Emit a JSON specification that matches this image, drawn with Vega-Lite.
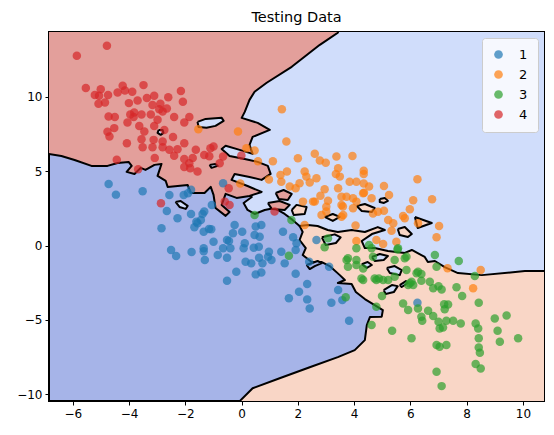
{
  "$schema": "https://vega.github.io/schema/vega-lite/v6.json",
  "width": 495,
  "height": 369,
  "autosize": {"type": "none"},
  "padding": {"left": 49, "top": 32, "right": 10, "bottom": 34},
  "title": {"text": "Testing Data", "fontSize": 14.5, "font": "DejaVu Sans", "fontWeight": "normal", "offset": 7, "color": "black"},
  "config": {
    "view": {"fill": "#a6b4e8", "stroke": "black", "strokeWidth": 2},
    "axis": {"labelFont": "DejaVu Sans", "labelFontSize": 12, "labelColor": "black", "tickColor": "black", "domainColor": "black", "tickSize": 4, "grid": false, "title": null, "labelPadding": 3, "zindex": 1},
    "legend": {"orient": "top-right", "offset": 6, "fillColor": "rgba(255,255,255,0.8)", "strokeColor": "#cccccc", "cornerRadius": 3, "padding": 10, "labelFontSize": 13, "labelFont": "DejaVu Sans", "labelColor": "black", "symbolSize": 75, "symbolOpacity": 0.7, "symbolStrokeWidth": 0, "symbolType": "circle", "rowPadding": 6, "labelOffset": 14}
  },
  "datasets": {
    "regions": [
      {"g": "peach", "i": 0, "x": 1.92, "y": 1.85},
      {"g": "peach", "i": 1, "x": 11.49, "y": 1.85},
      {"g": "peach", "i": 2, "x": 11.49, "y": -11.74},
      {"g": "peach", "i": 3, "x": -0.14, "y": -11.74},
      {"g": "peach", "i": 4, "x": -0.07, "y": -10.46},
      {"g": "peach", "i": 5, "x": 0.39, "y": -9.59},
      {"g": "peach", "i": 6, "x": 1.35, "y": -8.92},
      {"g": "peach", "i": 7, "x": 2.42, "y": -8.18},
      {"g": "peach", "i": 8, "x": 3.42, "y": -7.5},
      {"g": "peach", "i": 9, "x": 4.02, "y": -7.03},
      {"g": "peach", "i": 10, "x": 4.38, "y": -6.36},
      {"g": "peach", "i": 11, "x": 4.45, "y": -5.35},
      {"g": "peach", "i": 12, "x": 4.56, "y": -4.81},
      {"g": "peach", "i": 13, "x": 4.98, "y": -4.78},
      {"g": "peach", "i": 14, "x": 5.02, "y": -4.34},
      {"g": "peach", "i": 15, "x": 4.73, "y": -4.0},
      {"g": "peach", "i": 16, "x": 4.38, "y": -3.6},
      {"g": "peach", "i": 17, "x": 4.06, "y": -3.13},
      {"g": "peach", "i": 18, "x": 3.91, "y": -2.59},
      {"g": "peach", "i": 19, "x": 3.42, "y": -2.52},
      {"g": "peach", "i": 20, "x": 3.67, "y": -2.32},
      {"g": "peach", "i": 21, "x": 3.49, "y": -1.99},
      {"g": "peach", "i": 22, "x": 3.13, "y": -1.38},
      {"g": "peach", "i": 23, "x": 2.85, "y": -1.11},
      {"g": "peach", "i": 24, "x": 2.49, "y": -1.11},
      {"g": "peach", "i": 25, "x": 2.17, "y": -0.64},
      {"g": "peach", "i": 26, "x": 2.28, "y": -0.17},
      {"g": "peach", "i": 27, "x": 2.06, "y": 0.37},
      {"g": "peach", "i": 28, "x": 2.17, "y": 0.91},
      {"g": "peach", "i": 29, "x": 1.92, "y": 1.85},

      {"g": "lblue", "i": 0, "x": 11.49, "y": 15.51},
      {"g": "lblue", "i": 1, "x": 11.49, "y": -1.65},
      {"g": "lblue", "i": 2, "x": 10.75, "y": -1.72},
      {"g": "lblue", "i": 3, "x": 10.07, "y": -1.72},
      {"g": "lblue", "i": 4, "x": 8.54, "y": -1.99},
      {"g": "lblue", "i": 5, "x": 7.69, "y": -1.85},
      {"g": "lblue", "i": 6, "x": 7.22, "y": -1.45},
      {"g": "lblue", "i": 7, "x": 6.87, "y": -1.04},
      {"g": "lblue", "i": 8, "x": 6.62, "y": -1.11},
      {"g": "lblue", "i": 9, "x": 6.51, "y": -0.77},
      {"g": "lblue", "i": 10, "x": 6.05, "y": -0.3},
      {"g": "lblue", "i": 11, "x": 5.8, "y": -0.5},
      {"g": "lblue", "i": 12, "x": 5.2, "y": -0.37},
      {"g": "lblue", "i": 13, "x": 4.73, "y": -0.17},
      {"g": "lblue", "i": 14, "x": 4.38, "y": -0.17},
      {"g": "lblue", "i": 15, "x": 4.27, "y": 0.3},
      {"g": "lblue", "i": 16, "x": 4.63, "y": 0.77},
      {"g": "lblue", "i": 17, "x": 5.09, "y": 1.04},
      {"g": "lblue", "i": 18, "x": 4.84, "y": 1.24},
      {"g": "lblue", "i": 19, "x": 4.38, "y": 0.91},
      {"g": "lblue", "i": 20, "x": 3.91, "y": 1.04},
      {"g": "lblue", "i": 21, "x": 3.42, "y": 0.91},
      {"g": "lblue", "i": 22, "x": 3.06, "y": 1.04},
      {"g": "lblue", "i": 23, "x": 2.7, "y": 1.31},
      {"g": "lblue", "i": 24, "x": 2.35, "y": 1.38},
      {"g": "lblue", "i": 25, "x": 2.06, "y": 1.31},
      {"g": "lblue", "i": 26, "x": 1.81, "y": 1.72},
      {"g": "lblue", "i": 27, "x": 1.53, "y": 2.12},
      {"g": "lblue", "i": 28, "x": 1.17, "y": 2.52},
      {"g": "lblue", "i": 29, "x": 0.82, "y": 2.39},
      {"g": "lblue", "i": 30, "x": 0.46, "y": 2.12},
      {"g": "lblue", "i": 31, "x": 0.21, "y": 2.39},
      {"g": "lblue", "i": 32, "x": 0.07, "y": 2.86},
      {"g": "lblue", "i": 33, "x": 0.36, "y": 3.26},
      {"g": "lblue", "i": 34, "x": -0.07, "y": 3.73},
      {"g": "lblue", "i": 35, "x": -0.5, "y": 4.54},
      {"g": "lblue", "i": 36, "x": -0.96, "y": 6.43},
      {"g": "lblue", "i": 37, "x": -1.49, "y": 15.51},
      {"g": "lblue", "i": 38, "x": 11.49, "y": 15.51},

      {"g": "red", "i": 0, "x": -7.54, "y": 15.51},
      {"g": "red", "i": 1, "x": 3.67, "y": 15.51},
      {"g": "red", "i": 2, "x": 3.42, "y": 14.3},
      {"g": "red", "i": 3, "x": 2.78, "y": 13.49},
      {"g": "red", "i": 4, "x": 1.78, "y": 12.01},
      {"g": "red", "i": 5, "x": 0.89, "y": 10.94},
      {"g": "red", "i": 6, "x": 0.46, "y": 10.33},
      {"g": "red", "i": 7, "x": 0.28, "y": 9.79},
      {"g": "red", "i": 8, "x": 0.11, "y": 8.98},
      {"g": "red", "i": 9, "x": 0.0, "y": 8.58},
      {"g": "red", "i": 10, "x": 0.57, "y": 8.24},
      {"g": "red", "i": 11, "x": 1.0, "y": 7.77},
      {"g": "red", "i": 12, "x": 0.39, "y": 7.3},
      {"g": "red", "i": 13, "x": 0.28, "y": 6.76},
      {"g": "red", "i": 14, "x": 0.39, "y": 6.16},
      {"g": "red", "i": 15, "x": -0.07, "y": 6.43},
      {"g": "red", "i": 16, "x": -0.57, "y": 6.7},
      {"g": "red", "i": 17, "x": -0.71, "y": 6.49},
      {"g": "red", "i": 18, "x": -0.43, "y": 6.02},
      {"g": "red", "i": 19, "x": 0.11, "y": 5.82},
      {"g": "red", "i": 20, "x": 0.57, "y": 5.62},
      {"g": "red", "i": 21, "x": 0.93, "y": 5.35},
      {"g": "red", "i": 22, "x": 1.03, "y": 4.81},
      {"g": "red", "i": 23, "x": 0.71, "y": 4.41},
      {"g": "red", "i": 24, "x": 0.28, "y": 4.61},
      {"g": "red", "i": 25, "x": -0.25, "y": 4.81},
      {"g": "red", "i": 26, "x": -0.36, "y": 4.41},
      {"g": "red", "i": 27, "x": 0.21, "y": 4.0},
      {"g": "red", "i": 28, "x": 0.71, "y": 3.6},
      {"g": "red", "i": 29, "x": 0.28, "y": 3.33},
      {"g": "red", "i": 30, "x": -0.18, "y": 3.2},
      {"g": "red", "i": 31, "x": -0.57, "y": 3.47},
      {"g": "red", "i": 32, "x": -0.71, "y": 2.73},
      {"g": "red", "i": 33, "x": -0.43, "y": 2.25},
      {"g": "red", "i": 34, "x": -0.57, "y": 1.99},
      {"g": "red", "i": 35, "x": -0.93, "y": 2.52},
      {"g": "red", "i": 36, "x": -1.0, "y": 3.4},
      {"g": "red", "i": 37, "x": -1.1, "y": 3.94},
      {"g": "red", "i": 38, "x": -1.32, "y": 3.53},
      {"g": "red", "i": 39, "x": -1.81, "y": 3.53},
      {"g": "red", "i": 40, "x": -1.92, "y": 4.07},
      {"g": "red", "i": 41, "x": -2.63, "y": 3.94},
      {"g": "red", "i": 42, "x": -2.7, "y": 4.34},
      {"g": "red", "i": 43, "x": -2.99, "y": 4.68},
      {"g": "red", "i": 44, "x": -2.92, "y": 5.08},
      {"g": "red", "i": 45, "x": -2.85, "y": 5.48},
      {"g": "red", "i": 46, "x": -3.1, "y": 5.42},
      {"g": "red", "i": 47, "x": -3.42, "y": 5.08},
      {"g": "red", "i": 48, "x": -3.59, "y": 5.22},
      {"g": "red", "i": 49, "x": -3.81, "y": 4.81},
      {"g": "red", "i": 50, "x": -4.09, "y": 4.95},
      {"g": "red", "i": 51, "x": -3.91, "y": 5.35},
      {"g": "red", "i": 52, "x": -4.02, "y": 5.62},
      {"g": "red", "i": 53, "x": -4.41, "y": 5.55},
      {"g": "red", "i": 54, "x": -4.77, "y": 5.35},
      {"g": "red", "i": 55, "x": -5.34, "y": 5.35},
      {"g": "red", "i": 56, "x": -5.94, "y": 5.75},
      {"g": "red", "i": 57, "x": -6.41, "y": 6.02},
      {"g": "red", "i": 58, "x": -6.87, "y": 6.16},
      {"g": "red", "i": 59, "x": -7.54, "y": 6.16},
      {"g": "red", "i": 60, "x": -7.54, "y": 15.51}
    ],
    "islands": [
      {"g": "a1", "k": "lblue", "i": 0, "x": -1.57, "y": 8.31},
      {"g": "a1", "k": "lblue", "i": 1, "x": -1.28, "y": 8.51},
      {"g": "a1", "k": "lblue", "i": 2, "x": -0.71, "y": 8.58},
      {"g": "a1", "k": "lblue", "i": 3, "x": -0.64, "y": 8.38},
      {"g": "a1", "k": "lblue", "i": 4, "x": -0.93, "y": 8.04},
      {"g": "a1", "k": "lblue", "i": 5, "x": -1.25, "y": 7.91},
      {"g": "a1", "k": "lblue", "i": 6, "x": -1.53, "y": 7.97},
      {"g": "a1", "k": "lblue", "i": 7, "x": -1.57, "y": 8.31},
      {"g": "a2", "k": "lblue", "i": 0, "x": -2.95, "y": 7.77},
      {"g": "a2", "k": "lblue", "i": 1, "x": -2.81, "y": 7.77},
      {"g": "a2", "k": "lblue", "i": 2, "x": -2.78, "y": 7.57},
      {"g": "a2", "k": "lblue", "i": 3, "x": -2.88, "y": 7.44},
      {"g": "a2", "k": "lblue", "i": 4, "x": -2.99, "y": 7.57},
      {"g": "a2", "k": "lblue", "i": 5, "x": -2.95, "y": 7.77},
      {"g": "a3", "k": "lblue", "i": 0, "x": -1.14, "y": 5.42},
      {"g": "a3", "k": "lblue", "i": 1, "x": -0.93, "y": 5.48},
      {"g": "a3", "k": "lblue", "i": 2, "x": -0.85, "y": 5.35},
      {"g": "a3", "k": "lblue", "i": 3, "x": -1.07, "y": 5.22},
      {"g": "a3", "k": "lblue", "i": 4, "x": -1.14, "y": 5.42},
      {"g": "a4", "k": "lblue", "i": 0, "x": -2.35, "y": 2.93},
      {"g": "a4", "k": "lblue", "i": 1, "x": -2.17, "y": 2.99},
      {"g": "a4", "k": "lblue", "i": 2, "x": -1.92, "y": 2.66},
      {"g": "a4", "k": "lblue", "i": 3, "x": -1.99, "y": 2.46},
      {"g": "a4", "k": "lblue", "i": 4, "x": -2.21, "y": 2.59},
      {"g": "a4", "k": "lblue", "i": 5, "x": -2.35, "y": 2.93},
      {"g": "a5", "k": "peach", "i": 0, "x": 4.91, "y": 3.13},
      {"g": "a5", "k": "peach", "i": 1, "x": 5.09, "y": 3.2},
      {"g": "a5", "k": "peach", "i": 2, "x": 5.2, "y": 3.0},
      {"g": "a5", "k": "peach", "i": 3, "x": 5.06, "y": 2.86},
      {"g": "a5", "k": "peach", "i": 4, "x": 4.91, "y": 2.93},
      {"g": "a5", "k": "peach", "i": 5, "x": 4.91, "y": 3.13},
      {"g": "a6", "k": "peach", "i": 0, "x": 4.09, "y": 2.66},
      {"g": "a6", "k": "peach", "i": 1, "x": 4.38, "y": 2.79},
      {"g": "a6", "k": "peach", "i": 2, "x": 4.73, "y": 2.52},
      {"g": "a6", "k": "peach", "i": 3, "x": 4.63, "y": 2.25},
      {"g": "a6", "k": "peach", "i": 4, "x": 4.27, "y": 2.32},
      {"g": "a6", "k": "peach", "i": 5, "x": 4.09, "y": 2.66},
      {"g": "a7", "k": "peach", "i": 0, "x": 6.16, "y": 1.92},
      {"g": "a7", "k": "peach", "i": 1, "x": 6.76, "y": 1.51},
      {"g": "a7", "k": "peach", "i": 2, "x": 6.26, "y": 1.18},
      {"g": "a7", "k": "peach", "i": 3, "x": 6.16, "y": 1.92},
      {"g": "a8", "k": "peach", "i": 0, "x": 5.55, "y": 1.11},
      {"g": "a8", "k": "peach", "i": 1, "x": 5.8, "y": 1.24},
      {"g": "a8", "k": "peach", "i": 2, "x": 6.05, "y": 0.77},
      {"g": "a8", "k": "peach", "i": 3, "x": 5.91, "y": 0.57},
      {"g": "a8", "k": "peach", "i": 4, "x": 5.62, "y": 0.71},
      {"g": "a8", "k": "peach", "i": 5, "x": 5.55, "y": 1.11},
      {"g": "a9", "k": "lblue", "i": 0, "x": 5.16, "y": -1.51},
      {"g": "a9", "k": "lblue", "i": 1, "x": 5.44, "y": -1.38},
      {"g": "a9", "k": "lblue", "i": 2, "x": 5.69, "y": -1.65},
      {"g": "a9", "k": "lblue", "i": 3, "x": 5.62, "y": -1.99},
      {"g": "a9", "k": "lblue", "i": 4, "x": 5.27, "y": -1.85},
      {"g": "a9", "k": "lblue", "i": 5, "x": 5.16, "y": -1.51},
      {"g": "a10", "k": "lblue", "i": 0, "x": 5.05, "y": -3.0},
      {"g": "a10", "k": "lblue", "i": 1, "x": 5.34, "y": -2.66},
      {"g": "a10", "k": "lblue", "i": 2, "x": 5.55, "y": -2.73},
      {"g": "a10", "k": "lblue", "i": 3, "x": 5.41, "y": -3.13},
      {"g": "a10", "k": "lblue", "i": 4, "x": 5.12, "y": -3.26},
      {"g": "a10", "k": "lblue", "i": 5, "x": 5.05, "y": -3.0},
      {"g": "a11", "k": "lblue", "i": 0, "x": 5.62, "y": -2.66},
      {"g": "a11", "k": "lblue", "i": 1, "x": 5.84, "y": -2.39},
      {"g": "a11", "k": "lblue", "i": 2, "x": 5.91, "y": -2.52},
      {"g": "a11", "k": "lblue", "i": 3, "x": 5.69, "y": -2.79},
      {"g": "a11", "k": "lblue", "i": 4, "x": 5.62, "y": -2.66},
      {"g": "a12", "k": "lblue", "i": 0, "x": 4.63, "y": -0.77},
      {"g": "a12", "k": "lblue", "i": 1, "x": 4.91, "y": -0.57},
      {"g": "a12", "k": "lblue", "i": 2, "x": 5.2, "y": -0.71},
      {"g": "a12", "k": "lblue", "i": 3, "x": 5.05, "y": -0.98},
      {"g": "a12", "k": "lblue", "i": 4, "x": 4.73, "y": -1.04},
      {"g": "a12", "k": "lblue", "i": 5, "x": 4.63, "y": -0.77},
      {"g": "a13", "k": "lblue", "i": 0, "x": 2.85, "y": 0.55},
      {"g": "a13", "k": "lblue", "i": 1, "x": 3.31, "y": 0.75},
      {"g": "a13", "k": "lblue", "i": 2, "x": 3.52, "y": 0.55},
      {"g": "a13", "k": "lblue", "i": 3, "x": 3.35, "y": 0.17},
      {"g": "a13", "k": "lblue", "i": 4, "x": 2.99, "y": 0.03},
      {"g": "a13", "k": "lblue", "i": 5, "x": 2.85, "y": 0.55},
      {"g": "a14", "k": "blue", "i": 0, "x": 2.31, "y": -1.31},
      {"g": "a14", "k": "blue", "i": 1, "x": 2.7, "y": -1.04},
      {"g": "a14", "k": "blue", "i": 2, "x": 2.85, "y": -1.18},
      {"g": "a14", "k": "blue", "i": 3, "x": 2.6, "y": -1.38},
      {"g": "a14", "k": "blue", "i": 4, "x": 2.42, "y": -1.58},
      {"g": "a14", "k": "blue", "i": 5, "x": 2.31, "y": -1.31},
      {"g": "a15", "k": "lblue", "i": 0, "x": 4.27, "y": -1.25},
      {"g": "a15", "k": "lblue", "i": 1, "x": 4.48, "y": -1.11},
      {"g": "a15", "k": "lblue", "i": 2, "x": 4.63, "y": -1.31},
      {"g": "a15", "k": "lblue", "i": 3, "x": 4.45, "y": -1.51},
      {"g": "a15", "k": "lblue", "i": 4, "x": 4.27, "y": -1.25},
      {"g": "a16", "k": "red", "i": 0, "x": 1.21, "y": 3.53},
      {"g": "a16", "k": "red", "i": 1, "x": 1.49, "y": 3.73},
      {"g": "a16", "k": "red", "i": 2, "x": 1.78, "y": 3.47},
      {"g": "a16", "k": "red", "i": 3, "x": 1.64, "y": 3.06},
      {"g": "a16", "k": "red", "i": 4, "x": 1.32, "y": 3.13},
      {"g": "a16", "k": "red", "i": 5, "x": 1.21, "y": 3.53},
      {"g": "a17", "k": "red", "i": 0, "x": 0.93, "y": 2.86},
      {"g": "a17", "k": "red", "i": 1, "x": 1.35, "y": 2.99},
      {"g": "a17", "k": "red", "i": 2, "x": 1.71, "y": 2.73},
      {"g": "a17", "k": "red", "i": 3, "x": 1.53, "y": 2.39},
      {"g": "a17", "k": "red", "i": 4, "x": 1.07, "y": 2.46},
      {"g": "a17", "k": "red", "i": 5, "x": 0.93, "y": 2.86},
      {"g": "a18", "k": "peach", "i": 0, "x": 1.78, "y": 2.39},
      {"g": "a18", "k": "peach", "i": 1, "x": 1.95, "y": 2.73},
      {"g": "a18", "k": "peach", "i": 2, "x": 2.31, "y": 2.59},
      {"g": "a18", "k": "peach", "i": 3, "x": 2.24, "y": 2.12},
      {"g": "a18", "k": "peach", "i": 4, "x": 1.85, "y": 2.05},
      {"g": "a18", "k": "peach", "i": 5, "x": 1.78, "y": 2.39},
      {"g": "a19", "k": "peach", "i": 0, "x": 2.95, "y": 1.92},
      {"g": "a19", "k": "peach", "i": 1, "x": 3.24, "y": 2.12},
      {"g": "a19", "k": "peach", "i": 2, "x": 3.49, "y": 1.92},
      {"g": "a19", "k": "peach", "i": 3, "x": 3.24, "y": 1.65},
      {"g": "a19", "k": "peach", "i": 4, "x": 2.95, "y": 1.92}
    ],
    "points": [
      {"x": -4.73, "y": 4.14, "c": "1"}, {"x": -4.47, "y": 3.42, "c": "1"}, {"x": -3.52, "y": 3.65, "c": "1"}, {"x": -2.57, "y": 3.4, "c": "1"},
      {"x": -2.06, "y": 3.4, "c": "1"}, {"x": -1.8, "y": 3.75, "c": "1"}, {"x": -1.06, "y": 2.73, "c": "1"}, {"x": -1.33, "y": 2.29, "c": "1"},
      {"x": -0.66, "y": 4.18, "c": "1"}, {"x": -1.91, "y": 3.51, "c": "1"}, {"x": -2.66, "y": 2.32, "c": "1"}, {"x": -2.28, "y": 1.83, "c": "1"},
      {"x": -1.8, "y": 2.12, "c": "1"}, {"x": -1.39, "y": 2.12, "c": "1"}, {"x": -1.45, "y": 1.72, "c": "1"}, {"x": -1.57, "y": 1.49, "c": "1"},
      {"x": -1.68, "y": 1.22, "c": "1"}, {"x": -1.35, "y": 0.93, "c": "1"}, {"x": -1.08, "y": 1.09, "c": "1"}, {"x": -2.85, "y": 1.16, "c": "1"},
      {"x": -1.0, "y": 0.26, "c": "1"}, {"x": -2.51, "y": -0.3, "c": "1"}, {"x": -2.33, "y": -0.71, "c": "1"}, {"x": -1.78, "y": -0.44, "c": "1"},
      {"x": -1.35, "y": -0.19, "c": "1"}, {"x": -1.35, "y": -0.38, "c": "1"}, {"x": -1.31, "y": -0.98, "c": "1"}, {"x": -0.85, "y": -0.64, "c": "1"},
      {"x": -1.61, "y": 1.6, "c": "1"}, {"x": -1.16, "y": 1.11, "c": "1"}, {"x": -0.52, "y": -0.82, "c": "1"}, {"x": -0.66, "y": -0.19, "c": "1"},
      {"x": -0.52, "y": 0.37, "c": "1"}, {"x": -0.45, "y": 0.3, "c": "1"}, {"x": -0.4, "y": -0.19, "c": "1"}, {"x": -0.31, "y": 0.82, "c": "1"},
      {"x": -0.25, "y": 1.38, "c": "1"}, {"x": 0.02, "y": 0.93, "c": "1"}, {"x": 0.11, "y": 0.15, "c": "1"}, {"x": 0.07, "y": -0.19, "c": "1"},
      {"x": 0.43, "y": -0.15, "c": "1"}, {"x": 0.61, "y": -0.08, "c": "1"}, {"x": 0.46, "y": 0.7, "c": "1"}, {"x": 0.64, "y": 0.59, "c": "1"},
      {"x": 0.5, "y": 1.27, "c": "1"}, {"x": 0.7, "y": 1.38, "c": "1"}, {"x": 0.14, "y": -1.09, "c": "1"}, {"x": 0.34, "y": -1.2, "c": "1"},
      {"x": 0.74, "y": -1.2, "c": "1"}, {"x": 0.62, "y": -0.82, "c": "1"}, {"x": 0.97, "y": -0.42, "c": "1"}, {"x": 1.06, "y": -0.98, "c": "1"},
      {"x": 0.94, "y": -0.75, "c": "1"}, {"x": -0.19, "y": -1.76, "c": "1"}, {"x": 0.5, "y": -1.94, "c": "1"}, {"x": 0.7, "y": -1.81, "c": "1"},
      {"x": -0.52, "y": -2.37, "c": "1"}, {"x": 1.53, "y": -1.2, "c": "1"}, {"x": 1.41, "y": -0.42, "c": "1"}, {"x": 1.92, "y": -0.3, "c": "1"},
      {"x": 1.95, "y": 0.15, "c": "1"}, {"x": 1.92, "y": -1.9, "c": "1"}, {"x": 1.83, "y": 0.56, "c": "1"}, {"x": 1.47, "y": 0.93, "c": "1"},
      {"x": 1.68, "y": -3.55, "c": "1"}, {"x": 2.04, "y": -3.11, "c": "1"}, {"x": 2.33, "y": -3.62, "c": "1"}, {"x": 2.42, "y": -4.23, "c": "1"},
      {"x": 2.33, "y": -2.59, "c": "1"}, {"x": 3.82, "y": -5.06, "c": "1"}, {"x": 3.19, "y": -3.85, "c": "1"}, {"x": 3.58, "y": -3.67, "c": "1"},
      {"x": 3.43, "y": -2.99, "c": "1"}, {"x": 3.11, "y": -1.43, "c": "1"}, {"x": 2.4, "y": -1.09, "c": "1"}, {"x": 2.66, "y": 0.37, "c": "1"},
      {"x": 6.25, "y": -3.85, "c": "1"},

      {"x": 1.43, "y": 9.16, "c": "2"}, {"x": -0.13, "y": 7.66, "c": "2"}, {"x": 1.59, "y": 6.99, "c": "2"}, {"x": 0.17, "y": 6.54, "c": "2"},
      {"x": 0.46, "y": 6.38, "c": "2"}, {"x": 0.58, "y": 5.66, "c": "2"}, {"x": 1.11, "y": 5.66, "c": "2"}, {"x": 2.0, "y": 5.87, "c": "2"},
      {"x": 2.6, "y": 6.16, "c": "2"}, {"x": 2.78, "y": 5.71, "c": "2"}, {"x": 2.99, "y": 5.57, "c": "2"}, {"x": 3.37, "y": 5.98, "c": "2"},
      {"x": 3.94, "y": 6.02, "c": "2"}, {"x": 1.38, "y": 4.74, "c": "2"}, {"x": 1.61, "y": 4.97, "c": "2"}, {"x": 0.97, "y": 4.43, "c": "2"},
      {"x": 1.41, "y": 4.29, "c": "2"}, {"x": 2.24, "y": 4.97, "c": "2"}, {"x": 2.3, "y": 4.63, "c": "2"}, {"x": 2.66, "y": 4.52, "c": "2"},
      {"x": 2.42, "y": 4.23, "c": "2"}, {"x": 2.06, "y": 4.18, "c": "2"}, {"x": 1.71, "y": 3.96, "c": "2"}, {"x": 1.92, "y": 3.85, "c": "2"},
      {"x": 3.43, "y": 5.19, "c": "2"}, {"x": 3.35, "y": 4.81, "c": "2"}, {"x": 3.49, "y": 4.63, "c": "2"}, {"x": 4.34, "y": 5.03, "c": "2"},
      {"x": 4.34, "y": 4.81, "c": "2"}, {"x": 3.84, "y": 4.29, "c": "2"}, {"x": 4.08, "y": 4.29, "c": "2"}, {"x": 4.34, "y": 4.16, "c": "2"},
      {"x": 4.53, "y": 3.96, "c": "2"}, {"x": 2.95, "y": 3.78, "c": "2"}, {"x": 3.43, "y": 3.85, "c": "2"}, {"x": 2.8, "y": 3.35, "c": "2"},
      {"x": 3.07, "y": 3.01, "c": "2"}, {"x": 2.6, "y": 2.95, "c": "2"}, {"x": 2.18, "y": 2.95, "c": "2"}, {"x": 3.55, "y": 3.28, "c": "2"},
      {"x": 3.73, "y": 3.28, "c": "2"}, {"x": 3.96, "y": 3.18, "c": "2"}, {"x": 4.32, "y": 3.51, "c": "2"}, {"x": 4.62, "y": 3.18, "c": "2"},
      {"x": 3.55, "y": 2.73, "c": "2"}, {"x": 3.01, "y": 2.61, "c": "2"}, {"x": 4.35, "y": 3.55, "c": "2"}, {"x": 5.06, "y": 4.0, "c": "2"},
      {"x": 5.24, "y": 3.4, "c": "2"}, {"x": 6.25, "y": 4.45, "c": "2"}, {"x": 6.1, "y": 3.05, "c": "2"}, {"x": 5.98, "y": 2.44, "c": "2"},
      {"x": 5.74, "y": 1.99, "c": "2"}, {"x": 5.06, "y": 2.34, "c": "2"}, {"x": 4.85, "y": 2.27, "c": "2"}, {"x": 4.08, "y": 2.95, "c": "2"},
      {"x": 3.6, "y": 2.62, "c": "2"}, {"x": 3.96, "y": 2.51, "c": "2"}, {"x": 3.55, "y": 1.94, "c": "2"}, {"x": 2.54, "y": 2.95, "c": "2"},
      {"x": 2.84, "y": 2.05, "c": "2"}, {"x": 6.77, "y": 3.11, "c": "2"}, {"x": 5.39, "y": 1.49, "c": "2"}, {"x": 5.33, "y": 1.0, "c": "2"},
      {"x": 5.5, "y": 0.26, "c": "2"}, {"x": 5.03, "y": 0.1, "c": "2"}, {"x": 7.02, "y": 1.31, "c": "2"}, {"x": 6.93, "y": 0.55, "c": "2"},
      {"x": 7.32, "y": -1.53, "c": "2"}, {"x": 8.5, "y": -1.65, "c": "2"}, {"x": 8.23, "y": -2.88, "c": "2"}, {"x": 2.24, "y": 1.38, "c": "2"},
      {"x": 4.05, "y": 1.35, "c": "2"}, {"x": 5.21, "y": 1.72, "c": "2"}, {"x": 5.8, "y": 1.83, "c": "2"}, {"x": 6.27, "y": 1.49, "c": "2"},
      {"x": 4.08, "y": 0.3, "c": "2"}, {"x": 4.79, "y": 0.37, "c": "2"}, {"x": 4.67, "y": 2.15, "c": "2"}, {"x": 3.01, "y": 2.28, "c": "2"},
      {"x": 3.61, "y": 2.05, "c": "2"}, {"x": -0.05, "y": 4.16, "c": "2"}, {"x": -1.54, "y": 7.82, "c": "2"},

      {"x": 1.68, "y": -0.69, "c": "3"}, {"x": 0.46, "y": 2.05, "c": "3"}, {"x": 1.77, "y": 1.72, "c": "3"}, {"x": 3.7, "y": -3.48, "c": "3"},
      {"x": 4.62, "y": -5.35, "c": "3"}, {"x": 4.79, "y": -4.12, "c": "3"}, {"x": 3.73, "y": -0.98, "c": "3"}, {"x": 4.08, "y": -0.98, "c": "3"},
      {"x": 4.08, "y": -1.31, "c": "3"}, {"x": 4.32, "y": -2.32, "c": "3"}, {"x": 4.53, "y": 0.03, "c": "3"}, {"x": 4.67, "y": -0.75, "c": "3"},
      {"x": 4.79, "y": -2.32, "c": "3"}, {"x": 2.95, "y": -0.12, "c": "3"}, {"x": 3.07, "y": 0.48, "c": "3"}, {"x": 4.08, "y": -0.19, "c": "3"},
      {"x": 3.78, "y": -0.86, "c": "3"}, {"x": 3.78, "y": -1.43, "c": "3"}, {"x": 4.32, "y": -1.54, "c": "3"}, {"x": 4.26, "y": -2.21, "c": "3"},
      {"x": 4.73, "y": -2.21, "c": "3"}, {"x": 5.03, "y": -2.32, "c": "3"}, {"x": 4.62, "y": -0.19, "c": "3"}, {"x": 5.56, "y": -0.19, "c": "3"},
      {"x": 5.8, "y": -0.86, "c": "3"}, {"x": 6.27, "y": -1.76, "c": "3"}, {"x": 5.98, "y": -2.54, "c": "3"}, {"x": 6.1, "y": -2.65, "c": "3"},
      {"x": 5.54, "y": -0.26, "c": "3"}, {"x": 6.87, "y": -0.64, "c": "3"}, {"x": 7.72, "y": -1.04, "c": "3"}, {"x": 6.93, "y": -1.43, "c": "3"},
      {"x": 8.29, "y": -2.05, "c": "3"}, {"x": 5.86, "y": -1.65, "c": "3"}, {"x": 6.22, "y": -1.87, "c": "3"}, {"x": 6.39, "y": -1.92, "c": "3"},
      {"x": 6.04, "y": -2.44, "c": "3"}, {"x": 6.39, "y": -2.37, "c": "3"}, {"x": 6.69, "y": -2.44, "c": "3"}, {"x": 6.81, "y": -2.88, "c": "3"},
      {"x": 7.0, "y": -2.73, "c": "3"}, {"x": 7.11, "y": -2.95, "c": "3"}, {"x": 7.64, "y": -2.81, "c": "3"}, {"x": 7.84, "y": -3.4, "c": "3"},
      {"x": 8.43, "y": -3.85, "c": "3"}, {"x": 5.74, "y": -3.89, "c": "3"}, {"x": 5.92, "y": -4.34, "c": "3"}, {"x": 6.27, "y": -4.23, "c": "3"},
      {"x": 6.63, "y": -4.39, "c": "3"}, {"x": 6.81, "y": -4.74, "c": "3"}, {"x": 6.39, "y": -4.79, "c": "3"}, {"x": 6.42, "y": -5.06, "c": "3"},
      {"x": 7.2, "y": -3.94, "c": "3"}, {"x": 7.34, "y": -3.96, "c": "3"}, {"x": 7.22, "y": -4.29, "c": "3"}, {"x": 7.0, "y": -5.13, "c": "3"},
      {"x": 7.28, "y": -5.06, "c": "3"}, {"x": 7.52, "y": -5.06, "c": "3"}, {"x": 7.79, "y": -5.24, "c": "3"}, {"x": 7.04, "y": -5.57, "c": "3"},
      {"x": 7.16, "y": -5.51, "c": "3"}, {"x": 5.35, "y": -5.73, "c": "3"}, {"x": 6.04, "y": -6.24, "c": "3"}, {"x": 8.32, "y": -5.24, "c": "3"},
      {"x": 8.41, "y": -5.57, "c": "3"}, {"x": 8.43, "y": -6.24, "c": "3"}, {"x": 9.0, "y": -4.9, "c": "3"}, {"x": 9.42, "y": -4.7, "c": "3"},
      {"x": 9.1, "y": -5.73, "c": "3"}, {"x": 9.18, "y": -6.47, "c": "3"}, {"x": 9.83, "y": -6.24, "c": "3"}, {"x": 6.93, "y": -6.69, "c": "3"},
      {"x": 7.04, "y": -6.81, "c": "3"}, {"x": 7.28, "y": -6.69, "c": "3"}, {"x": 8.43, "y": -6.85, "c": "3"}, {"x": 8.47, "y": -7.21, "c": "3"},
      {"x": 8.32, "y": -7.97, "c": "3"}, {"x": 8.5, "y": -8.26, "c": "3"}, {"x": 6.93, "y": -8.49, "c": "3"}, {"x": 7.11, "y": -9.45, "c": "3"},
      {"x": 4.99, "y": -3.4, "c": "3"}, {"x": 5.86, "y": -0.75, "c": "3"}, {"x": 5.44, "y": -0.98, "c": "3"}, {"x": 4.88, "y": -2.21, "c": "3"},
      {"x": 5.21, "y": -2.32, "c": "3"}, {"x": 5.44, "y": -2.1, "c": "3"}, {"x": 5.92, "y": -2.66, "c": "3"},

      {"x": -4.79, "y": 13.43, "c": "4"}, {"x": -5.86, "y": 12.75, "c": "4"}, {"x": -5.54, "y": 10.58, "c": "4"}, {"x": -5.01, "y": 10.51, "c": "4"},
      {"x": -5.22, "y": 10.11, "c": "4"}, {"x": -5.07, "y": 10.06, "c": "4"}, {"x": -4.75, "y": 10.11, "c": "4"}, {"x": -4.41, "y": 10.28, "c": "4"},
      {"x": -4.23, "y": 10.73, "c": "4"}, {"x": -4.15, "y": 10.42, "c": "4"}, {"x": -3.89, "y": 10.33, "c": "4"}, {"x": -3.49, "y": 10.78, "c": "4"},
      {"x": -5.09, "y": 9.52, "c": "4"}, {"x": -4.86, "y": 9.61, "c": "4"}, {"x": -4.01, "y": 9.57, "c": "4"}, {"x": -3.7, "y": 9.74, "c": "4"},
      {"x": -3.37, "y": 9.91, "c": "4"}, {"x": -3.11, "y": 10.06, "c": "4"}, {"x": -3.17, "y": 9.45, "c": "4"}, {"x": -2.89, "y": 9.52, "c": "4"},
      {"x": -2.61, "y": 9.97, "c": "4"}, {"x": -2.16, "y": 10.38, "c": "4"}, {"x": -2.09, "y": 9.66, "c": "4"}, {"x": -2.93, "y": 9.16, "c": "4"},
      {"x": -2.66, "y": 9.21, "c": "4"}, {"x": -2.81, "y": 9.01, "c": "4"}, {"x": -3.82, "y": 8.94, "c": "4"}, {"x": -3.96, "y": 8.8, "c": "4"},
      {"x": -3.56, "y": 8.8, "c": "4"}, {"x": -3.23, "y": 8.8, "c": "4"}, {"x": -4.73, "y": 8.67, "c": "4"}, {"x": -4.51, "y": 8.63, "c": "4"},
      {"x": -3.84, "y": 8.63, "c": "4"}, {"x": -2.4, "y": 8.63, "c": "4"}, {"x": -1.86, "y": 8.63, "c": "4"}, {"x": -4.06, "y": 8.26, "c": "4"},
      {"x": -2.99, "y": 8.45, "c": "4"}, {"x": -2.04, "y": 8.26, "c": "4"}, {"x": -4.53, "y": 7.89, "c": "4"}, {"x": -3.64, "y": 8.04, "c": "4"},
      {"x": -3.11, "y": 8.04, "c": "4"}, {"x": -3.46, "y": 7.66, "c": "4"}, {"x": -2.75, "y": 7.77, "c": "4"}, {"x": -4.77, "y": 7.64, "c": "4"},
      {"x": -4.7, "y": 7.32, "c": "4"}, {"x": -4.08, "y": 6.88, "c": "4"}, {"x": -3.56, "y": 7.15, "c": "4"}, {"x": -3.13, "y": 7.1, "c": "4"},
      {"x": -2.81, "y": 6.99, "c": "4"}, {"x": -2.44, "y": 7.3, "c": "4"}, {"x": -3.52, "y": 6.61, "c": "4"}, {"x": -3.17, "y": 6.61, "c": "4"},
      {"x": -2.81, "y": 6.61, "c": "4"}, {"x": -2.57, "y": 6.43, "c": "4"}, {"x": -2.28, "y": 6.47, "c": "4"}, {"x": -2.04, "y": 6.88, "c": "4"},
      {"x": -1.63, "y": 6.43, "c": "4"}, {"x": -1.33, "y": 6.09, "c": "4"}, {"x": -1.11, "y": 6.54, "c": "4"}, {"x": -1.0, "y": 6.65, "c": "4"},
      {"x": -4.44, "y": 5.77, "c": "4"}, {"x": -3.09, "y": 5.89, "c": "4"}, {"x": -2.4, "y": 6.04, "c": "4"}, {"x": -2.04, "y": 5.82, "c": "4"},
      {"x": -1.74, "y": 5.89, "c": "4"}, {"x": -1.86, "y": 5.53, "c": "4"}, {"x": -2.04, "y": 5.27, "c": "4"}, {"x": -1.83, "y": 5.19, "c": "4"},
      {"x": -1.57, "y": 4.97, "c": "4"}, {"x": -1.15, "y": 6.0, "c": "4"}, {"x": -3.68, "y": 5.13, "c": "4"}, {"x": -2.87, "y": 2.84, "c": "4"},
      {"x": -0.66, "y": 5.98, "c": "4"}, {"x": -0.78, "y": 5.53, "c": "4"}, {"x": -0.01, "y": 6.05, "c": "4"}, {"x": -0.46, "y": 3.85, "c": "4"},
      {"x": -0.6, "y": 2.95, "c": "4"}, {"x": -0.43, "y": 2.73, "c": "4"}, {"x": 1.17, "y": 2.28, "c": "4"}
    ]
  },
  "encoding": {
    "x": {"field": "x", "type": "quantitative", "scale": {"domain": [-6.85, 10.75], "nice": false, "zero": false}, "axis": {"values": [-6, -4, -2, 0, 2, 4, 6, 8, 10]}},
    "y": {"field": "y", "type": "quantitative", "scale": {"domain": [-10.45, 14.35], "nice": false, "zero": false}, "axis": {"values": [-10, -5, 0, 5, 10]}}
  },
  "layer": [
    {
      "data": {"name": "regions"},
      "transform": [{"filter": "datum.g == 'peach'"}],
      "mark": {"type": "line", "fill": "#f9d6c6", "stroke": "black", "strokeWidth": 2, "strokeJoin": "round", "clip": true},
      "encoding": {"order": {"field": "i", "type": "quantitative"}}
    },
    {
      "data": {"name": "regions"},
      "transform": [{"filter": "datum.g == 'lblue'"}],
      "mark": {"type": "line", "fill": "#d0ddfb", "stroke": "black", "strokeWidth": 2, "strokeJoin": "round", "clip": true},
      "encoding": {"order": {"field": "i", "type": "quantitative"}}
    },
    {
      "data": {"name": "regions"},
      "transform": [{"filter": "datum.g == 'red'"}],
      "mark": {"type": "line", "fill": "#e39f9b", "stroke": "black", "strokeWidth": 2, "strokeJoin": "round", "clip": true},
      "encoding": {"order": {"field": "i", "type": "quantitative"}}
    },
    {
      "data": {"name": "islands"},
      "transform": [{"filter": "datum.k == 'lblue'"}],
      "mark": {"type": "line", "fill": "#d0ddfb", "stroke": "black", "strokeWidth": 2, "strokeJoin": "round", "clip": true},
      "encoding": {"order": {"field": "i", "type": "quantitative"}, "detail": {"field": "g", "type": "nominal"}}
    },
    {
      "data": {"name": "islands"},
      "transform": [{"filter": "datum.k == 'peach'"}],
      "mark": {"type": "line", "fill": "#f9d6c6", "stroke": "black", "strokeWidth": 2, "strokeJoin": "round", "clip": true},
      "encoding": {"order": {"field": "i", "type": "quantitative"}, "detail": {"field": "g", "type": "nominal"}}
    },
    {
      "data": {"name": "islands"},
      "transform": [{"filter": "datum.k == 'red'"}],
      "mark": {"type": "line", "fill": "#e39f9b", "stroke": "black", "strokeWidth": 2, "strokeJoin": "round", "clip": true},
      "encoding": {"order": {"field": "i", "type": "quantitative"}, "detail": {"field": "g", "type": "nominal"}}
    },
    {
      "data": {"name": "islands"},
      "transform": [{"filter": "datum.k == 'blue'"}],
      "mark": {"type": "line", "fill": "#a6b4e8", "stroke": "black", "strokeWidth": 2, "strokeJoin": "round", "clip": true},
      "encoding": {"order": {"field": "i", "type": "quantitative"}, "detail": {"field": "g", "type": "nominal"}}
    },
    {
      "data": {"name": "points"},
      "mark": {"type": "circle", "size": 72, "opacity": 0.7},
      "encoding": {
        "color": {
          "field": "c",
          "type": "nominal",
          "scale": {"domain": ["1", "2", "3", "4"], "range": ["#1f77b4", "#ff7f0e", "#2ca02c", "#d62728"]},
          "legend": {"title": null}
        }
      }
    }
  ]
}
